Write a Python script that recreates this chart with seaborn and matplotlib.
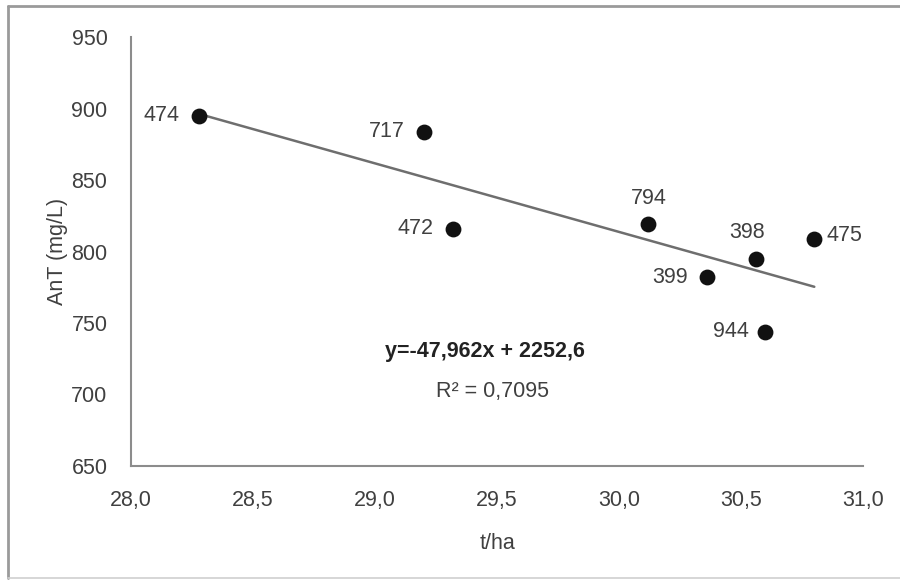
import matplotlib
matplotlib.use("Agg")
import matplotlib.pyplot as plt
import seaborn as sns
import pandas as pd
from matplotlib.lines import Line2D

# Yield (t/ha) vs total anthocyanins (mg/L) per clone
clones = ["474", "717", "472", "794", "399", "398", "944", "475"]
yield_t_ha = [28.28, 29.20, 29.32, 30.12, 30.36, 30.56, 30.60, 30.80]
ant_mg_l = [895, 884, 816, 819, 782, 795, 744, 809]

# Fitted linear trend as reported
slope = -47.962
intercept = 2252.6
r_squared = 0.7095

x_ticks = [28.0, 28.5, 29.0, 29.5, 30.0, 30.5, 31.0]
y_ticks = [650, 700, 750, 800, 850, 900, 950]

# label placement per clone: (dx, dy, ha, va) in points
label_pos = {
    "474": (-14, 0, "right", "center"),
    "717": (-14, 0, "right", "center"),
    "472": (-14, 0, "right", "center"),
    "794": (0, 11, "center", "bottom"),
    "399": (-14, 0, "right", "center"),
    "398": (-6, 11, "center", "bottom"),
    "944": (-12, 0, "right", "center"),
    "475": (9, 2, "left", "center"),
}

sns.set_style("white")
plt.rcParams["font.family"] = ["Liberation Sans", "DejaVu Sans"]

text_col = "#404040"
axis_col = "#8c8c8c"
fs = 15.5

df = pd.DataFrame({"clone": clones, "t/ha": yield_t_ha, "AnT": ant_mg_l})

fig = plt.figure(figsize=(9.0, 5.81), dpi=100)
ax = fig.add_axes([0.1456, 0.198, 0.8134, 0.738])

trend = pd.DataFrame({"x": [min(yield_t_ha), max(yield_t_ha)]})
trend["y"] = slope * trend["x"] + intercept
sns.lineplot(data=trend, x="x", y="y", ax=ax, color="#6e6e6e", linewidth=1.8, zorder=2)

sns.scatterplot(data=df, x="t/ha", y="AnT", ax=ax, s=130, color="#111111",
                edgecolor="#111111", linewidth=0, zorder=3)

for c, xv, yv in zip(clones, yield_t_ha, ant_mg_l):
    dx, dy, ha, va = label_pos[c]
    ax.annotate(c, (xv, yv), xytext=(dx, dy), textcoords="offset points",
                ha=ha, va=va, fontsize=fs, color=text_col)

ax.text(29.45, 730, f"y={slope:.3f}x + {intercept:.1f}".replace(".", ","),
        ha="center", va="center", fontsize=fs, fontweight="bold", color="#222222")
ax.text(29.48, 702, f"R² = {r_squared:.4f}".replace(".", ","),
        ha="center", va="center", fontsize=fs, color=text_col)

ax.set_xlim(28.0, 31.0)
ax.set_ylim(650, 950)
ax.set_xticks(x_ticks)
ax.set_yticks(y_ticks)
ax.set_xticklabels([f"{v:.1f}".replace(".", ",") for v in x_ticks])
ax.set_yticklabels([str(v) for v in y_ticks])
ax.tick_params(axis="both", direction="out", length=6, width=1.2, color=axis_col,
               labelsize=fs, labelcolor=text_col)
ax.tick_params(axis="y", pad=11)
ax.tick_params(axis="x", pad=11)

for side in ["top", "right"]:
    ax.spines[side].set_visible(False)
for side in ["left", "bottom"]:
    ax.spines[side].set_color(axis_col)
    ax.spines[side].set_linewidth(1.5)

ax.set_xlabel("t/ha", fontsize=fs, color=text_col, labelpad=16)
ax.set_ylabel("AnT (mg/L)", fontsize=fs, color=text_col, labelpad=2)

# outer chart frame
frame_kw = dict(transform=fig.transFigure, color="#9a9a9a", linewidth=2.0)
fig.add_artist(Line2D([8/900, 1.0], [1 - 6/581, 1 - 6/581], **frame_kw))
fig.add_artist(Line2D([8/900, 8/900], [1 - 6/581, 1 - 578/581], **frame_kw))
fig.add_artist(Line2D([8/900, 1.0], [1 - 578/581, 1 - 578/581],
                      transform=fig.transFigure, color="#d0d0d0", linewidth=1.2))

fig.savefig("out.png", dpi=100)
